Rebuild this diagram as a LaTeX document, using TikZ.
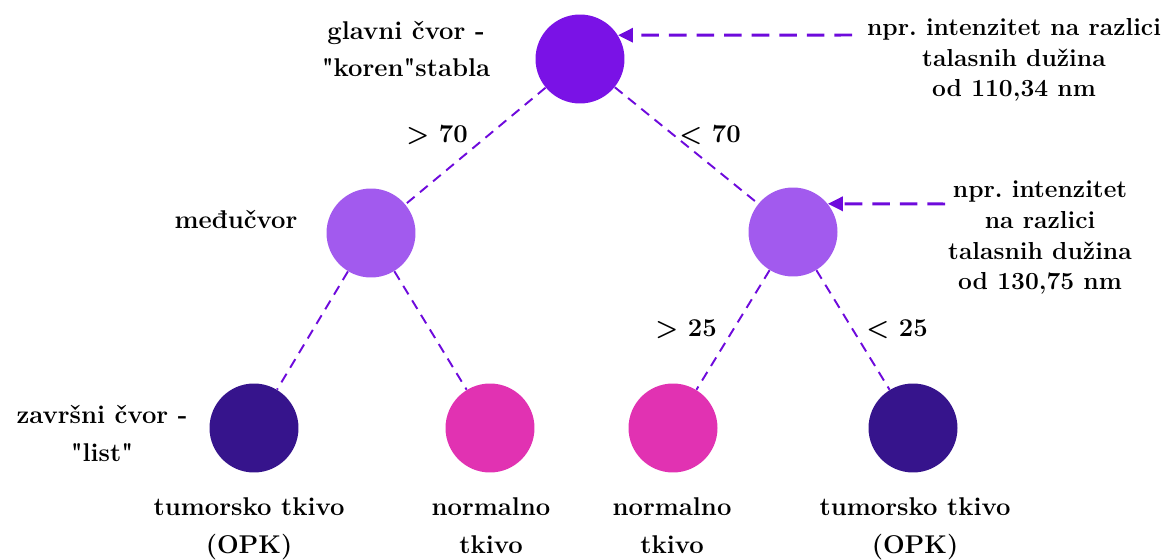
\documentclass[tikz,border=0pt]{standalone}
\usepackage{fontspec}
\setmainfont{Latin Modern Roman}[Ligatures=TeXOff]
\frenchspacing
\usetikzlibrary{arrows.meta}
\definecolor{rootc}{HTML}{7A12E6}
\definecolor{midc}{HTML}{A25AEE}
\definecolor{leafd}{HTML}{36148C}
\definecolor{leafp}{HTML}{E132B2}
\definecolor{linec}{HTML}{6E0ADC}
\begin{document}
\begin{tikzpicture}[x=0.02cm, y=-0.02cm,
    every node/.style={font=\bfseries\fontsize{14.6}{21.5}\selectfont, align=center},
    knot/.style={circle, minimum size=1.78cm, inner sep=0pt},
    tight/.style={font=\bfseries\fontsize{14}{17.6}\selectfont},
    branch/.style={draw=linec, line width=1.1pt, dash pattern=on 5.7pt off 4pt},
    pointer/.style={draw=linec, line width=1.7pt, dash pattern=on 10pt off 5.7pt, -{Triangle[length=8.5pt,width=8pt]}}]
    \useasboundingbox (0,0) rectangle (1166,560);
    % tree
    \node[knot, fill=rootc] (root) at (580,59) {};
    \node[knot, fill=midc] (ml) at (371,233) {};
    \node[knot, fill=midc] (mr) at (793,232) {};
    \node[knot, fill=leafd] (l1) at (254,428) {};
    \node[knot, fill=leafp] (l2) at (490,428) {};
    \node[knot, fill=leafp] (l3) at (673,428) {};
    \node[knot, fill=leafd] (l4) at (913,428) {};
    \draw[branch] (root) -- (ml);
    \draw[branch] (root) -- (mr);
    \draw[branch] (ml) -- (l1);
    \draw[branch] (ml) -- (l2);
    \draw[branch] (mr) -- (l3);
    \draw[branch] (mr) -- (l4);
    % pointers
    \coordinate (ta) at (852,35);
    \coordinate (tb) at (945,204);
    \draw[pointer] (ta) -- (root.32);
    \draw[pointer] (tb) -- (mr.39);
    % labels (base = last line)
    \node[anchor=base] (rootlbl) at (406,77) {glavni čvor -\\"koren"stabla};
    \node[anchor=base, tight] (infoa) at (1014,97) {npr. intenzitet na razlici\\talasnih dužina\\od 110,34 nm};
    \node[anchor=base, tight] (infob) at (1040,290) {npr. intenzitet\\na razlici\\talasnih dužina\\od 130,75 nm};
    \node[anchor=base] (gt70) at (437,143) {> 70};
    \node[anchor=base] (lt70) at (710,143) {< 70};
    \node[anchor=base] (gt25) at (686,337) {> 25};
    \node[anchor=base] (lt25) at (897,337) {< 25};
    \node[anchor=base] (midlbl) at (236,229) {međučvor};
    \node[anchor=base] (leaflbl) at (102,461) {završni čvor -\\"list"};
    \node[anchor=base] (t1) at (249,553) {tumorsko tkivo\\(OPK)};
    \node[anchor=base] (t2) at (491,553) {normalno\\tkivo};
    \node[anchor=base] (t3) at (672,553) {normalno\\tkivo};
    \node[anchor=base] (t4) at (915,553) {tumorsko tkivo\\(OPK)};
\end{tikzpicture}
\end{document}
